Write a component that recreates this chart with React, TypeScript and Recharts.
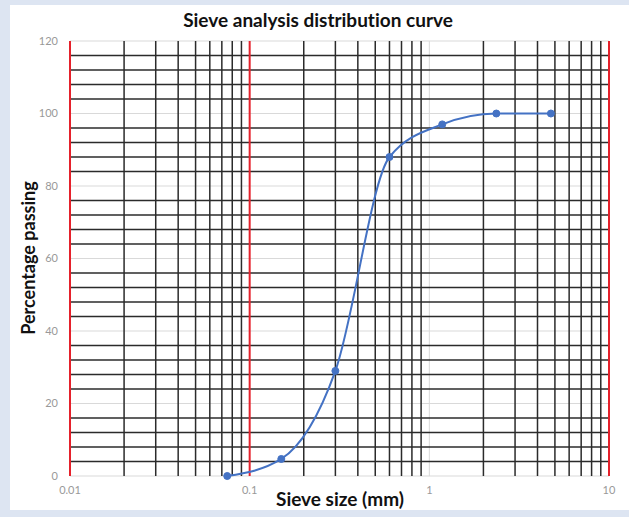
import React from "react";
import { LineChart, Line, XAxis, YAxis, ReferenceLine } from "recharts";

// sieve analysis results
const sieveSizes = [0.075, 0.15, 0.3, 0.6, 1.18, 2.36, 4.75];
const percentPassing = [0, 4.7, 29, 88, 97, 100, 100];

const xTicks = [0.01, 0.1, 1, 10];
const yTicks = [0, 20, 40, 60, 80, 100, 120];

// log-paper minor lines
const minorX = [
  0.02, 0.03, 0.04, 0.05, 0.06, 0.07, 0.08, 0.09,
  0.2, 0.3, 0.4, 0.5, 0.6, 0.7, 0.8, 0.9,
  2, 3, 4, 5, 6, 7, 8, 9,
];
const minorY = [
  4, 8, 12, 16, 24, 28, 32, 36, 44, 48, 52, 56, 64, 68, 72, 76,
  84, 88, 92, 96, 104, 108, 112, 116,
];
const redX = [0.01, 0.1, 10];
const grayX = [1];

const data = sieveSizes.map((size, i) => ({ size, passing: percentPassing[i] }));

const FONT = "Lato, 'Open Sans', sans-serif";
const BLUE = "#4472c4";

export default function App() {
  return (
    <div
      style={{
        position: "absolute",
        left: 0,
        top: 0,
        width: 629,
        height: 517,
        background: "#dde5f2",
        fontFamily: FONT,
        fontVariantLigatures: "none",
        overflow: "hidden",
      }}
    >
      <div
        style={{
          position: "absolute",
          left: 10,
          top: 5,
          width: 619,
          height: 505,
          background: "#fff",
        }}
      />
      <div
        style={{
          position: "absolute",
          left: 118,
          top: 9,
          width: 400,
          textAlign: "center",
          fontSize: 19,
          fontWeight: 700,
          lineHeight: "22px",
          color: "#111",
        }}
      >
        Sieve analysis distribution curve
      </div>
      <div style={{ position: "absolute", left: 0, top: 0 }}>
        <LineChart
          width={629}
          height={517}
          data={data}
          margin={{ top: 41, right: 20, bottom: 11, left: 30 }}
        >
          <XAxis
            dataKey="size"
            type="number"
            scale="log"
            domain={[0.01, 10]}
            ticks={xTicks}
            allowDataOverflow
            axisLine={false}
            tickLine={false}
            tickSize={0}
            tickMargin={10}
            height={30}
            tick={{ fontSize: 11, fill: "#999", fontFamily: FONT }}
            tickFormatter={(v) => String(v)}
          />
          <YAxis
            type="number"
            domain={[0, 120]}
            ticks={yTicks}
            width={40}
            axisLine={false}
            tickLine={false}
            tickSize={0}
            tickMargin={12}
            tick={{ fontSize: 11, fill: "#999", fontFamily: FONT }}
          />
          {yTicks.map((v) => (
            <ReferenceLine key={"my" + v} y={v} stroke="#d9d9d9" strokeWidth={1} />
          ))}
          {grayX.map((v) => (
            <ReferenceLine key={"gx" + v} x={v} stroke="#d9d9d9" strokeWidth={1} />
          ))}
          {minorY.map((v) => (
            <ReferenceLine key={"y" + v} y={v} stroke="#2b2b2b" strokeWidth={1.5} />
          ))}
          {minorX.map((v) => (
            <ReferenceLine key={"x" + v} x={v} stroke="#2b2b2b" strokeWidth={1.5} />
          ))}
          {redX.map((v) => (
            <ReferenceLine key={"r" + v} x={v} stroke="#e5212b" strokeWidth={2} />
          ))}
          <Line
            type="monotone"
            dataKey="passing"
            stroke={BLUE}
            strokeWidth={2}
            dot={{ r: 3.5, fill: BLUE, stroke: BLUE, strokeWidth: 1 }}
            isAnimationActive={false}
          />
        </LineChart>
      </div>
      <div
        style={{
          position: "absolute",
          left: 190,
          top: 488,
          width: 300,
          textAlign: "center",
          fontSize: 19,
          fontWeight: 700,
          lineHeight: "22px",
          color: "#111",
        }}
      >
        Sieve size (mm)
      </div>
      <div
        style={{
          position: "absolute",
          left: -122,
          top: 247,
          width: 300,
          height: 22,
          textAlign: "center",
          fontSize: 18,
          fontWeight: 700,
          lineHeight: "22px",
          color: "#111",
          transform: "rotate(-90deg)",
        }}
      >
        Percentage passing
      </div>
    </div>
  );
}
